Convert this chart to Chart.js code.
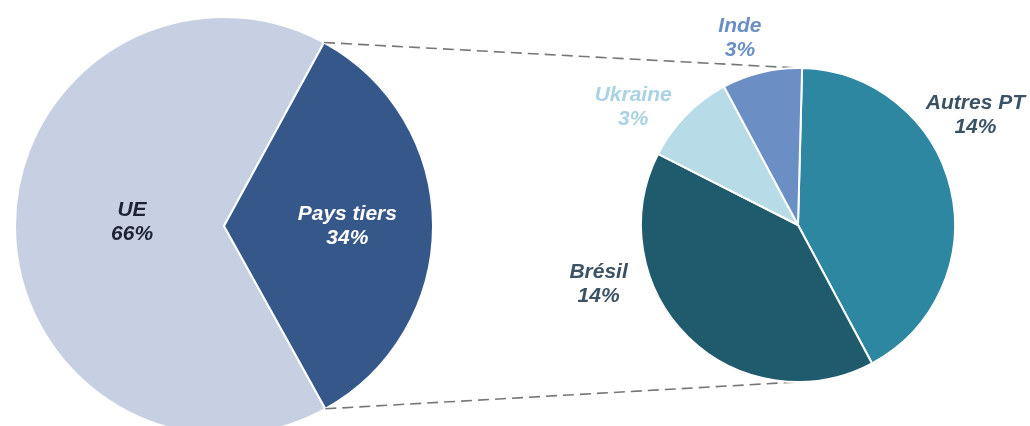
<!DOCTYPE html>
<html>
<head>
<meta charset="utf-8">
<script src="https://cdn.jsdelivr.net/npm/chart.js@4/dist/chart.umd.min.js"></script>
<style>
  html, body { margin: 0; padding: 0; width: 1030px; height: 426px; overflow: hidden; background: #fff; }
  #leftBox { position: absolute; left: 14px; top: 16px; width: 420px; height: 420px; }
  #rightBox { position: absolute; left: 0; top: 0; width: 1030px; height: 426px; }
</style>
</head>
<body>
<div id="leftBox"><canvas id="leftPie"></canvas></div>
<div id="rightBox"><canvas id="rightPie"></canvas></div>
<script>
// Répartition des importations : UE / pays tiers, puis détail des pays tiers
const mainLabels = ['UE', 'Pays tiers'];
const mainValues = [66, 34];
const mainColors = ['#c7cfe2', '#36578a'];

const detailLabels = ['Autres PT', 'Brésil', 'Ukraine', 'Inde'];
const detailValues = [14.2, 13.7, 3.3, 2.8];
const detailColors = ['#2e87a0', '#1f5a6d', '#b7dbe7', '#6b8fc5'];

// label placement (in units of the pie radius, from the pie centre)
const mainLabelPos = [[-0.44, -0.02], [0.59, 0.0]];
const mainTextColors = ['#1c2433', '#ffffff'];
const detailLabelPos = [[1.13, -0.70], [-1.27, 0.38], [-1.05, -0.75], [-0.37, -1.19]];
const detailTextColors = ['#3b5264', '#3b5264', '#a9d2e2', '#6b8fc5'];

const FONT = 'italic bold 21px "Liberation Sans", Arial, sans-serif';

const sliceLabels = {
  id: 'sliceLabels',
  afterDatasetsDraw(chart, args, opts) {
    const ctx = chart.ctx;
    const meta = chart.getDatasetMeta(0);
    const values = chart.data.datasets[0].data;
    ctx.save();
    ctx.font = FONT;
    ctx.textAlign = 'center';
    ctx.textBaseline = 'middle';
    meta.data.forEach((arc, i) => {
      const r = arc.outerRadius;
      const cx = arc.x + opts.pos[i][0] * r;
      const cy = arc.y + opts.pos[i][1] * r;
      ctx.fillStyle = opts.colors[i];
      ctx.fillText(chart.data.labels[i], cx, cy - 12);
      ctx.fillText(Math.round(values[i]) + '%', cx, cy + 12);
    });
    ctx.restore();
  }
};

const leftChart = new Chart(document.getElementById('leftPie'), {
  type: 'pie',
  data: {
    labels: mainLabels,
    datasets: [{
      data: mainValues,
      backgroundColor: mainColors,
      borderColor: '#ffffff',
      borderWidth: 2
    }]
  },
  options: {
    responsive: true,
    maintainAspectRatio: false,
    animation: false,
    rotation: 151,
    layout: { padding: 0 },
    plugins: {
      legend: { display: false },
      tooltip: { enabled: false },
      sliceLabels: { pos: mainLabelPos, colors: mainTextColors }
    }
  },
  plugins: [sliceLabels]
});

// dashed connectors from the "Pays tiers" slice to the detail pie
const connectors = {
  id: 'connectors',
  beforeDatasetsDraw(chart) {
    const box = document.getElementById('leftBox');
    const ox = box.offsetLeft, oy = box.offsetTop;
    const pt = leftChart.getDatasetMeta(0).data[1];
    const R = pt.outerRadius;
    const a1 = { x: ox + pt.x + R * Math.cos(pt.startAngle), y: oy + pt.y + R * Math.sin(pt.startAngle) };
    const a2 = { x: ox + pt.x + R * Math.cos(pt.endAngle), y: oy + pt.y + R * Math.sin(pt.endAngle) };
    const arc = chart.getDatasetMeta(0).data[0];
    const b1 = { x: arc.x, y: arc.y - arc.outerRadius };
    const b2 = { x: arc.x, y: arc.y + arc.outerRadius };
    const ctx = chart.ctx;
    ctx.save();
    ctx.strokeStyle = '#777777';
    ctx.lineWidth = 1.6;
    ctx.setLineDash([11, 6]);
    ctx.beginPath();
    ctx.moveTo(a1.x, a1.y); ctx.lineTo(b1.x, b1.y);
    ctx.moveTo(a2.x, a2.y); ctx.lineTo(b2.x, b2.y);
    ctx.stroke();
    ctx.restore();
  }
};

const rightChart = new Chart(document.getElementById('rightPie'), {
  type: 'pie',
  data: {
    labels: detailLabels,
    datasets: [{
      data: detailValues,
      backgroundColor: detailColors,
      borderColor: '#ffffff',
      borderWidth: 2
    }]
  },
  options: {
    responsive: true,
    maintainAspectRatio: false,
    animation: false,
    rotation: 1.5,
    layout: { padding: { left: 640, top: 67, right: 74, bottom: 43 } },
    plugins: {
      legend: { display: false },
      tooltip: { enabled: false },
      sliceLabels: { pos: detailLabelPos, colors: detailTextColors }
    }
  },
  plugins: [connectors, sliceLabels]
});
</script>
</body>
</html>
